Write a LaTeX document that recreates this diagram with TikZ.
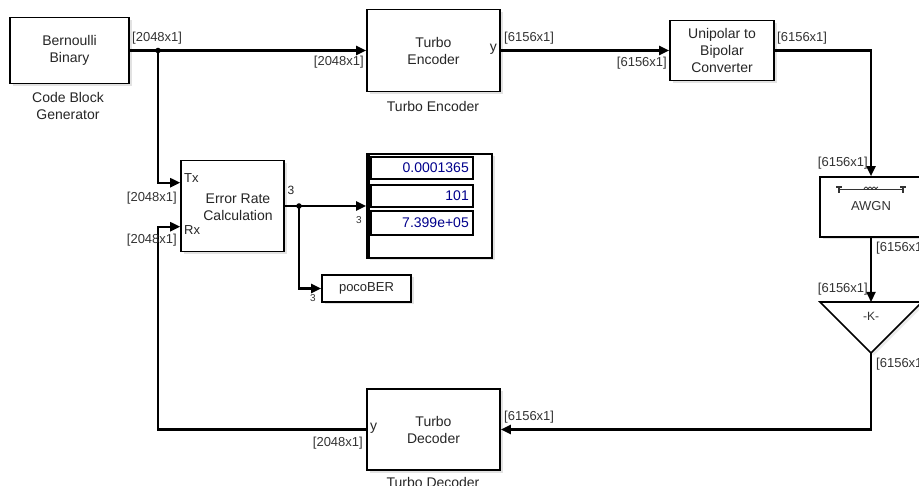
\documentclass[tikz,border=0pt]{standalone}
\usepackage{fontspec}
\setmainfont{Liberation Sans}
\usetikzlibrary{arrows.meta,shadows,calc}
\begin{document}
\begin{tikzpicture}[x=1pt,y=-1pt,
  blk/.style={draw,line width=1.6pt,fill=white,inner sep=0pt,align=center,
    font=\fontsize{14}{17}\selectfont,text=black!85,
    drop shadow={shadow xshift=2.5pt,shadow yshift=-2.5pt,fill=black!22}},
  fld/.style={draw,line width=2.4pt,fill=white,inner sep=0pt,minimum width=102pt},
  fldtxt/.style={font=\fontsize{14}{16}\selectfont,text=blue!55!black,inner sep=0pt,anchor=east},
  sig/.style={line width=2.2pt,black},
  arr/.style={sig,-{Triangle[length=10pt,width=9pt]}},
  lbl/.style={font=\fontsize{13}{15}\selectfont,text=black!80,inner sep=0pt},
  captxt/.style={font=\fontsize{14}{17}\selectfont,text=black!85,align=center,inner sep=0pt},
  port/.style={font=\fontsize{14}{16}\selectfont,text=black!85,inner sep=0pt},
  jdot/.style={circle,fill=black,inner sep=0pt,minimum size=5.5pt}]
\clip (0,0) rectangle (919,486);
\fill[white] (0,0) rectangle (919,486);

% blocks
\node[blk,minimum width=119pt,minimum height=66pt] (bern) at (69.5,50.5) {Bernoulli\\Binary};
\node[captxt] (bernc) at (68,106) {Code Block\\Generator};

\node[blk,minimum width=133pt,minimum height=82pt] (enc) at (433.5,50.5) {Turbo\\Encoder};
\node[captxt] (encc) at (433,106) {Turbo Encoder};
\node[port,anchor=east] (ency) at (497,49) {y};

\node[blk,minimum width=104pt,minimum height=60pt] (uni) at (722,50.5) {Unipolar to\\Bipolar\\Converter};

\node[blk,minimum width=102pt,minimum height=60pt] (awgn) at (871,207) {};
\node[lbl,font=\fontsize{13}{15}\selectfont] (awgnt) at (871,206) {AWGN};
\draw[line width=1pt,black!80] (840,190) -- (902,190);
\draw[line width=1.6pt,black!80] (836,187) -- (842,187) (839,187) -- (839,193);
\draw[line width=1.6pt,black!80] (900,187) -- (906,187) (903,187) -- (903,193);
\draw[line width=0.8pt,black!80] (864,189) sin (866,187) cos (868,189) sin (870,187) cos (872,189) sin (874,187) cos (876,189) sin (878,187);

\draw[line width=1.6pt,fill=white,drop shadow={shadow xshift=2.5pt,shadow yshift=-2.5pt,fill=black!15}] (820,302) -- (922,302) -- (871,353) -- cycle;
\coordinate (gin) at (871,302);
\coordinate (gout) at (871,353);
\node[lbl,font=\fontsize{12}{14}\selectfont] (gaint) at (871,316) {-K-};

\node[blk,minimum width=133pt,minimum height=81pt] (dec) at (433.5,429.5) {Turbo\\Decoder};
\node[captxt] (decc) at (433,482) {Turbo Decoder};
\node[port,anchor=west] (decy) at (370,428) {y};

\node[blk,minimum width=103pt,minimum height=91pt] (erc) at (232.5,206) {};
\node[captxt] (erct) at (238,207) {Error Rate\\Calculation};
\node[port,anchor=west,font=\fontsize{13}{15}\selectfont] (tx) at (184,178) {Tx};
\node[port,anchor=west,font=\fontsize{13}{15}\selectfont] (rx) at (184,230) {Rx};
\node[port,font=\fontsize{12}{14}\selectfont] (ercn) at (291,190) {3};
\coordinate (txin) at ($(erc.north west)+(0,23)$);
\coordinate (rxin) at ($(erc.north west)+(0,67)$);

\node[draw,line width=1.6pt,fill=white,minimum width=125pt,minimum height=104pt,inner sep=0pt,
  drop shadow={shadow xshift=2.5pt,shadow yshift=-2.5pt,fill=black!22}] (disp) at (429.5,206) {};
\draw[line width=4pt] ($(disp.north west)+(1.5,0)$) -- ($(disp.south west)+(1.5,0)$);
\node[fld,minimum height=22pt] (f1) at (422,168) {};
\node[fld,minimum height=22pt] (f2) at (422,196) {};
\node[fld,minimum height=24pt] (f3) at (422,223) {};
\node[fldtxt] (v1) at (469,168) {0.0001365};
\node[fldtxt] (v2) at (469,196) {101};
\node[fldtxt] (v3) at (469,223) {7.399e+05};

\node[blk,minimum width=89pt,minimum height=27pt,font=\fontsize{13}{15}\selectfont] (poco) at (366.5,288.5) {pocoBER};

% connectors
\coordinate (j1) at (158,50.5);
\coordinate (j2) at (299,206);
\coordinate (cl) at (158,429.5);
\draw[arr] (bern.east) -- (enc.west);
\draw[arr] (j1) |- (txin);
\node[jdot] (j1d) at (j1) {};
\draw[arr] (enc.east) -- (uni.west);
\draw[arr] (uni.east) -| (awgn.north);
\draw[arr] (awgn.south) -- (gin);
\draw[arr] (gout) |- (dec.east);
\draw[arr] (dec.west) -- (cl) |- (rxin);
\draw[arr] (erc.east) -- (disp.west);
\draw[arr] (j2) |- (poco.west);
\node[jdot] (j2d) at (j2) {};

% dimension labels
\node[lbl,anchor=west] (lb1) at (132,38) {[2048x1]};
\node[lbl,anchor=east] (lb2) at (364,62) {[2048x1]};
\node[lbl,anchor=west] (lb3) at (504,38) {[6156x1]};
\node[lbl,anchor=east] (lb4) at (667,63) {[6156x1]};
\node[lbl,anchor=west] (lb5) at (777,38) {[6156x1]};
\node[lbl,anchor=east] (lb6) at (868,163) {[6156x1]};
\node[lbl,anchor=west] (lb7) at (876,248) {[6156x1]};
\node[lbl,anchor=east] (lb8) at (868,289) {[6156x1]};
\node[lbl,anchor=west] (lb9) at (876,364) {[6156x1]};
\node[lbl,anchor=west] (lb10) at (504,417) {[6156x1]};
\node[lbl,anchor=east] (lb11) at (363,443) {[2048x1]};
\node[lbl,anchor=east] (lb12) at (177,198) {[2048x1]};
\node[lbl,anchor=east] (lb13) at (177,240) {[2048x1]};
\node[lbl,font=\fontsize{10}{12}\selectfont] (d1) at (359,220) {3};
\node[lbl,font=\fontsize{10}{12}\selectfont] (d2) at (313,298) {3};
\end{tikzpicture}
\end{document}
